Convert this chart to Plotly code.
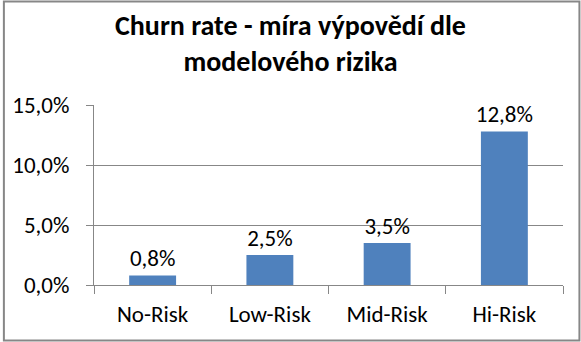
import plotly.graph_objects as go

# Churn rate by model risk segment (percent)
categories = ["No-Risk", "Low-Risk", "Mid-Risk", "Hi-Risk"]
churn_pct = [0.8, 2.5, 3.5, 12.8]
y_ticks = [0, 5, 10, 15]

W, H = 581, 342
L, R, T, B = 92, 18, 105, 57
pw, ph = W - L - R, H - T - B

FONT = "Carlito, Calibri, Lato, sans-serif"
BAR = "#4F81BD"
GRID = "#878787"


def pct(v):
    return f"{v:.1f}".replace(".", ",") + "%"


fig = go.Figure(
    go.Bar(
        x=categories,
        y=churn_pct,
        width=0.4,
        marker=dict(color=BAR, line=dict(width=0)),
        text=[pct(v) for v in churn_pct],
        textposition="outside",
        constraintext="none",
        textfont=dict(family=FONT, size=23, color="#000000"),
        cliponaxis=False,
    )
)

fig.update_layout(
    width=W,
    height=H,
    margin=dict(l=L, r=R, t=T, b=B),
    paper_bgcolor="white",
    plot_bgcolor="white",
    showlegend=False,
    title=dict(
        text="<b>Churn rate - míra výpovědí dle<br>modelového rizika</b>",
        x=0.5,
        xanchor="center",
        y=1 - 35 / H,
        yanchor="middle",
        font=dict(family=FONT, size=28, color="#000000"),
    ),
    font=dict(family=FONT, size=23, color="#000000"),
)

fig.update_yaxes(
    range=[0, 15],
    tickvals=y_ticks,
    ticktext=[pct(v) for v in y_ticks],
    showgrid=True,
    gridcolor=GRID,
    gridwidth=1,
    zeroline=False,
    showline=True,
    linecolor=GRID,
    linewidth=1,
    ticks="outside",
    ticklen=7,
    tickcolor=GRID,
    tickfont=dict(family=FONT, size=23, color="#000000"),
    ticklabelstandoff=12,
)

fig.update_xaxes(
    showline=True,
    linecolor=GRID,
    linewidth=1,
    ticks="outside",
    tickson="boundaries",
    ticklen=8,
    tickcolor=GRID,
    tickfont=dict(family=FONT, size=23, color="#000000"),
    ticklabelstandoff=8,
)

# outer chart border
fig.add_shape(
    type="rect",
    xref="paper",
    yref="paper",
    x0=(1.5 - L) / pw,
    x1=(W - 1.5 - L) / pw,
    y0=(H - B - (H - 1.5)) / ph,
    y1=(H - B - 1.5) / ph,
    line=dict(color="#878787", width=2),
    fillcolor="rgba(0,0,0,0)",
    layer="below",
)

fig.write_html("out.html")
